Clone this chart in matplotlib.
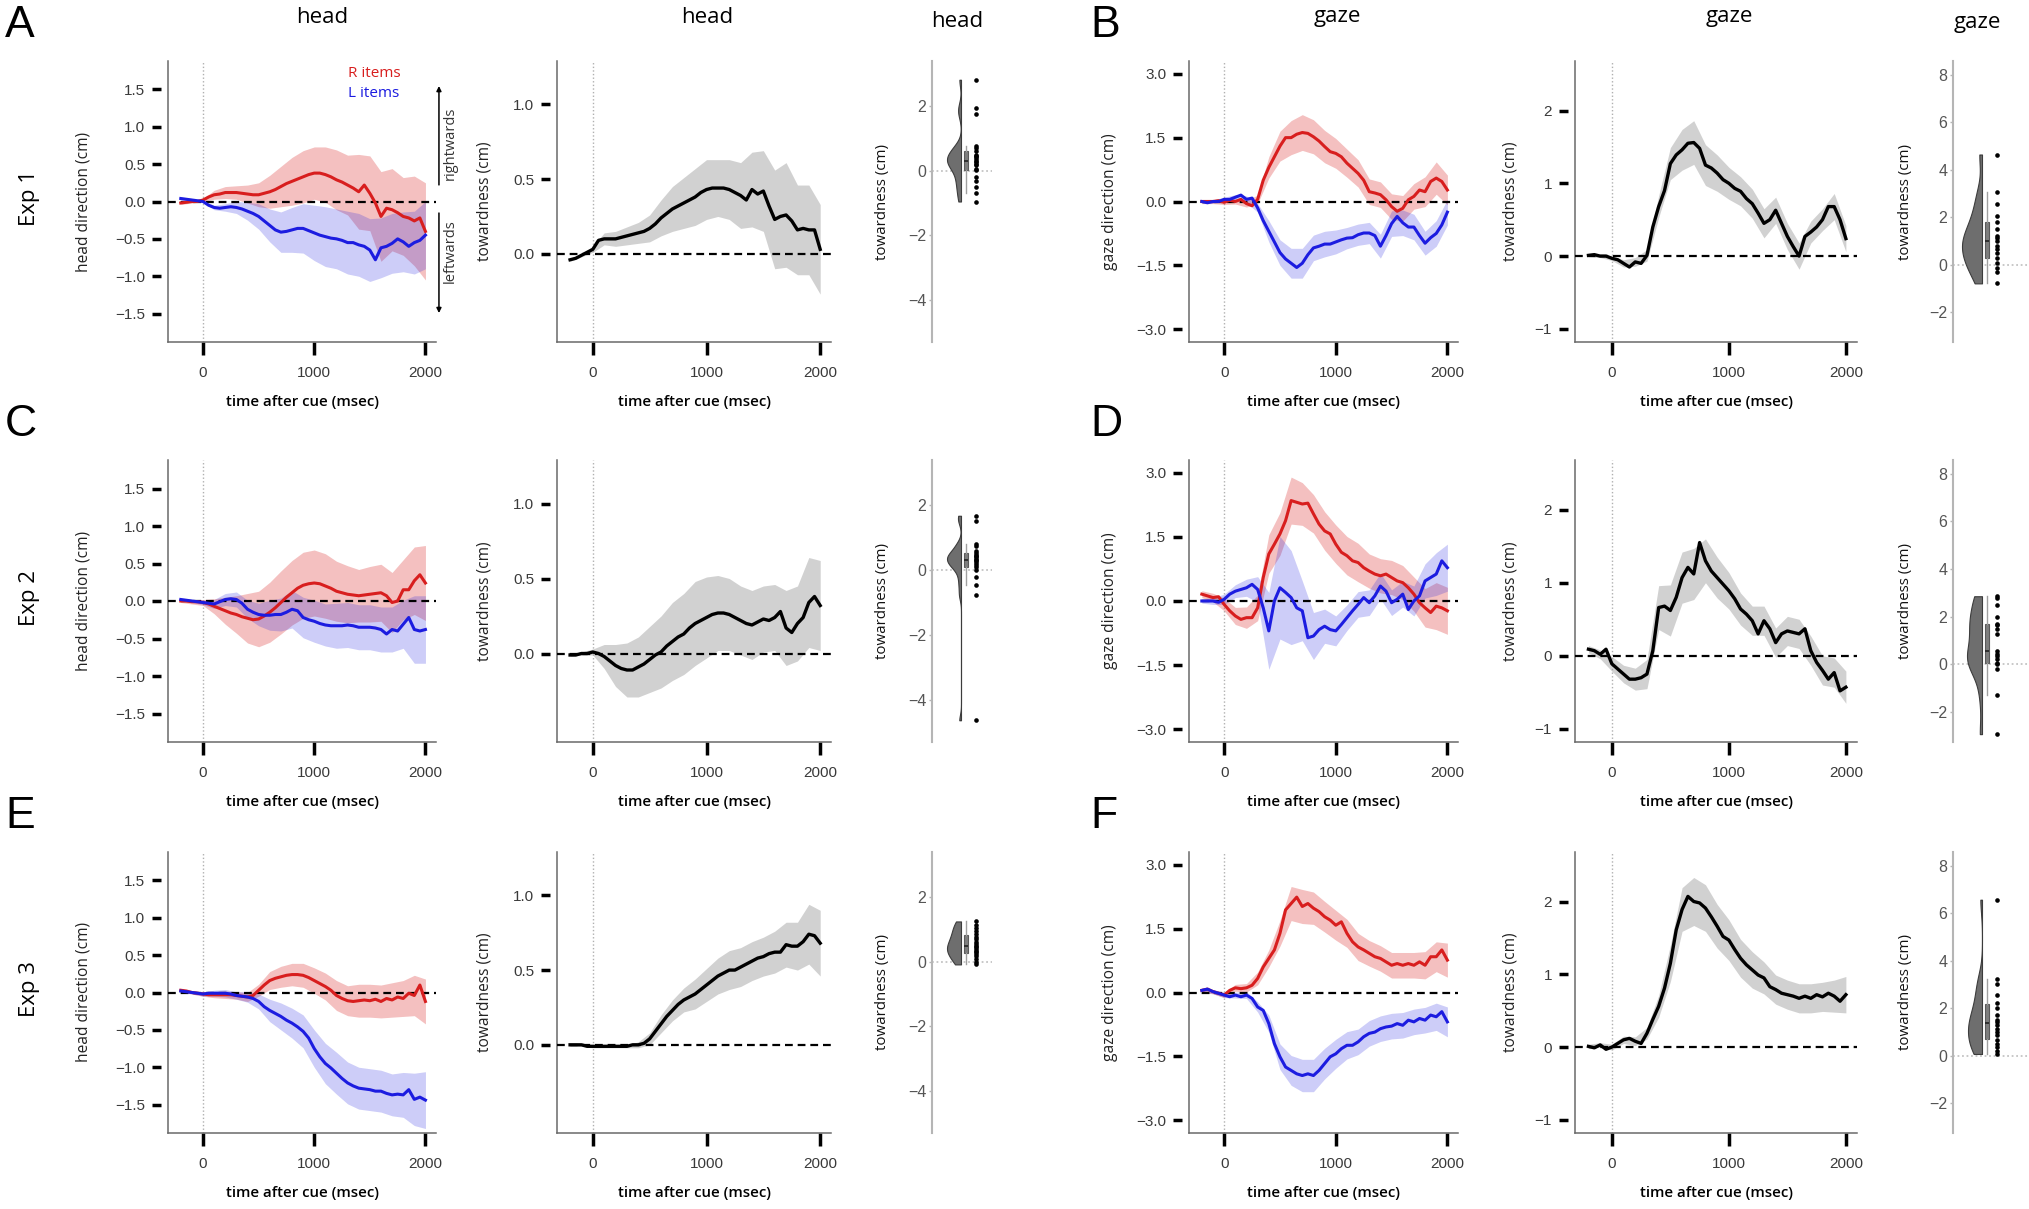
#!/usr/bin/env python3
"""Head / gaze direction and towardness after the cue, Exp 1-3 (panels A-F)."""
import numpy as np
import matplotlib
matplotlib.use('Agg')
import matplotlib.pyplot as plt
from matplotlib.ticker import FuncFormatter

plt.rcParams['font.family'] = ['Liberation Sans', 'DejaVu Sans']

# sample times (ms): means every 50 ms, CI half-widths every 100 ms
t_mean = np.arange(-200, 2001, 50)
t_ci = np.arange(-200, 2001, 100)

# ---- Exp 1 -----------------------------------------------------------------
exp1_head_R = [-0.02, -0.01, 0.0, 0.0, 0.02, 0.06, 0.09, 0.1, 0.12, 0.12, 0.12, 0.11, 0.1, 0.09, 0.09,
               0.11, 0.13, 0.16, 0.2, 0.24, 0.27, 0.3, 0.33, 0.36, 0.38, 0.38, 0.36, 0.33, 0.29, 0.26,
               0.22, 0.18, 0.13, 0.22, 0.11, -0.02, -0.2, -0.09, -0.11, -0.15, -0.2, -0.22, -0.26, -0.22, -0.4]
exp1_head_L = [0.04, 0.03, 0.02, 0.01, 0.0, -0.05, -0.08, -0.09, -0.08, -0.07, -0.08, -0.1, -0.13, -0.16, -0.2,
               -0.26, -0.32, -0.38, -0.41, -0.4, -0.38, -0.36, -0.36, -0.39, -0.42, -0.45, -0.47, -0.49, -0.5, -0.52,
               -0.55, -0.55, -0.58, -0.6, -0.65, -0.78, -0.62, -0.6, -0.56, -0.5, -0.54, -0.6, -0.55, -0.52, -0.45]
exp1_head_R_ci = [0.02, 0.02, 0.02, 0.06, 0.08, 0.09, 0.12, 0.16, 0.22, 0.27, 0.32, 0.35, 0.35, 0.37, 0.4, 0.4,
                  0.5, 0.5, 0.6, 0.55, 0.52, 0.6, 0.65]
exp1_head_L_ci = [0.02, 0.02, 0.01, 0.03, 0.05, 0.08, 0.12, 0.17, 0.22, 0.27, 0.3, 0.33, 0.37, 0.4, 0.4, 0.42,
                  0.42, 0.42, 0.4, 0.4, 0.4, 0.42, 0.45]
exp1_head_tow = [-0.04, -0.03, -0.01, 0.01, 0.03, 0.09, 0.1, 0.1, 0.1, 0.11, 0.12, 0.13, 0.14, 0.15, 0.17,
                 0.2, 0.24, 0.27, 0.3, 0.32, 0.34, 0.36, 0.38, 0.41, 0.43, 0.44, 0.44, 0.44, 0.43, 0.41,
                 0.39, 0.36, 0.43, 0.4, 0.42, 0.32, 0.23, 0.25, 0.26, 0.22, 0.16, 0.17, 0.16, 0.16, 0.03]
exp1_head_tow_ci = [0.01, 0.01, 0.02, 0.04, 0.05, 0.06, 0.07, 0.09, 0.12, 0.15, 0.17, 0.19, 0.2, 0.19, 0.2, 0.22,
                    0.25, 0.27, 0.33, 0.35, 0.3, 0.3, 0.3]
exp1_gaze_R = [0.0, 0.0, 0.0, 0.02, -0.02, 0.03, 0.0, 0.05, -0.05, -0.1, 0.05, 0.5, 0.8, 1.05, 1.3,
               1.5, 1.5, 1.58, 1.62, 1.6, 1.52, 1.42, 1.29, 1.17, 1.13, 1.05, 0.9, 0.78, 0.66, 0.5,
               0.23, 0.2, 0.16, 0.04, -0.12, -0.23, -0.16, 0.04, 0.12, 0.27, 0.23, 0.47, 0.55, 0.47, 0.27]
exp1_gaze_L = [0.0, -0.03, 0.0, 0.0, 0.05, 0.05, 0.1, 0.15, 0.05, 0.08, -0.15, -0.45, -0.7, -0.95, -1.2,
               -1.35, -1.45, -1.55, -1.45, -1.25, -1.09, -1.05, -1.0, -1.0, -0.95, -0.9, -0.86, -0.85, -0.78, -0.74,
               -0.74, -0.8, -1.05, -0.8, -0.52, -0.35, -0.5, -0.6, -0.6, -0.8, -0.98, -0.85, -0.75, -0.55, -0.25]
exp1_gaze_R_ci = [0.05, 0.05, 0.05, 0.06, 0.08, 0.1, 0.25, 0.35, 0.4, 0.42, 0.4, 0.38, 0.35, 0.33, 0.32, 0.3,
                  0.3, 0.3, 0.3, 0.3, 0.35, 0.38, 0.35]
exp1_gaze_L_ci = [0.04, 0.04, 0.05, 0.06, 0.08, 0.1, 0.25, 0.3, 0.35, 0.35, 0.3, 0.3, 0.28, 0.25, 0.25, 0.25,
                  0.28, 0.3, 0.3, 0.3, 0.28, 0.3, 0.3]
exp1_gaze_tow = [0.01, 0.02, 0.0, 0.0, -0.03, -0.05, -0.1, -0.15, -0.08, -0.1, 0.01, 0.4, 0.68, 0.9, 1.27,
                 1.39, 1.46, 1.55, 1.56, 1.48, 1.25, 1.21, 1.14, 1.05, 1.0, 0.93, 0.89, 0.79, 0.72, 0.59,
                 0.45, 0.5, 0.63, 0.45, 0.27, 0.13, 0.0, 0.27, 0.33, 0.4, 0.5, 0.68, 0.68, 0.5, 0.24]
exp1_gaze_tow_ci = [0.02, 0.02, 0.03, 0.05, 0.06, 0.08, 0.15, 0.22, 0.28, 0.3, 0.28, 0.25, 0.22, 0.2, 0.2, 0.2,
                    0.18, 0.18, 0.18, 0.15, 0.15, 0.18, 0.18]
exp1_head_subj = [2.82, 1.96, 1.77, 0.76, 0.71, 0.62, 0.5, 0.45, 0.42, 0.38, 0.3, 0.28, 0.22, 0.18, 0.05,
                  0.02, -0.18, -0.33, -0.5, -0.7, -0.95]
exp1_gaze_subj = [4.64, 3.07, 2.57, 2.07, 1.79, 1.5, 1.21, 1.14, 1.0, 0.79, 0.64, 0.5, 0.29, 0.07, -0.14,
                  -0.29, -0.79]

# ---- Exp 2 -----------------------------------------------------------------
exp2_head_R = [0.0, 0.0, -0.01, -0.01, -0.02, -0.04, -0.07, -0.1, -0.13, -0.16, -0.18, -0.21, -0.23, -0.25, -0.24,
               -0.2, -0.15, -0.09, -0.02, 0.05, 0.11, 0.17, 0.21, 0.23, 0.24, 0.23, 0.2, 0.17, 0.13, 0.11,
               0.09, 0.08, 0.07, 0.08, 0.09, 0.1, 0.11, 0.07, -0.02, 0.0, 0.15, 0.15, 0.27, 0.35, 0.24]
exp2_head_L = [0.02, 0.01, 0.0, -0.01, -0.02, -0.03, -0.04, -0.01, 0.02, 0.03, 0.02, -0.03, -0.11, -0.15, -0.18,
               -0.19, -0.19, -0.18, -0.18, -0.15, -0.11, -0.13, -0.22, -0.25, -0.27, -0.3, -0.32, -0.33, -0.33, -0.33,
               -0.32, -0.33, -0.35, -0.35, -0.35, -0.36, -0.38, -0.44, -0.38, -0.4, -0.31, -0.22, -0.38, -0.4, -0.38]
exp2_head_R_ci = [0.02, 0.03, 0.04, 0.1, 0.18, 0.25, 0.33, 0.37, 0.4, 0.42, 0.43, 0.44, 0.44, 0.43, 0.4, 0.38,
                  0.35, 0.37, 0.38, 0.4, 0.4, 0.45, 0.5]
exp2_head_L_ci = [0.02, 0.02, 0.03, 0.06, 0.08, 0.1, 0.12, 0.15, 0.2, 0.22, 0.25, 0.27, 0.28, 0.28, 0.3, 0.3,
                  0.3, 0.3, 0.3, 0.3, 0.32, 0.45, 0.45]
exp2_head_tow = [-0.01, -0.01, 0.0, 0.0, 0.01, 0.0, -0.02, -0.05, -0.08, -0.1, -0.11, -0.11, -0.09, -0.07, -0.04,
                 -0.01, 0.01, 0.05, 0.08, 0.11, 0.13, 0.17, 0.2, 0.22, 0.24, 0.26, 0.27, 0.27, 0.26, 0.24,
                 0.22, 0.2, 0.19, 0.21, 0.23, 0.22, 0.24, 0.28, 0.17, 0.14, 0.2, 0.24, 0.34, 0.38, 0.32]
exp2_head_tow_ci = [0.01, 0.01, 0.02, 0.08, 0.14, 0.18, 0.2, 0.22, 0.24, 0.26, 0.27, 0.28, 0.27, 0.25, 0.24, 0.23,
                    0.23, 0.22, 0.22, 0.25, 0.25, 0.3, 0.3]
exp2_gaze_R = [0.16, 0.12, 0.08, 0.1, -0.08, -0.23, -0.35, -0.43, -0.39, -0.39, -0.16, 0.55, 1.1, 1.33, 1.57,
               1.88, 2.35, 2.31, 2.27, 2.29, 2.04, 1.8, 1.64, 1.57, 1.33, 1.14, 1.06, 0.94, 0.9, 0.78,
               0.7, 0.63, 0.59, 0.63, 0.55, 0.47, 0.43, 0.31, 0.16, -0.04, -0.16, -0.27, -0.12, -0.16, -0.23]
exp2_gaze_L = [0.0, 0.0, 0.0, -0.03, 0.04, 0.16, 0.23, 0.27, 0.31, 0.39, 0.27, -0.16, -0.7, 0.0, 0.31,
               0.2, 0.08, -0.16, -0.23, -0.86, -0.82, -0.67, -0.59, -0.67, -0.7, -0.55, -0.39, -0.23, -0.08, 0.08,
               -0.04, 0.12, 0.35, 0.23, -0.04, 0.04, 0.16, -0.2, 0.0, 0.12, 0.47, 0.55, 0.63, 0.94, 0.78]
exp2_gaze_R_ci = [0.08, 0.1, 0.15, 0.2, 0.25, 0.3, 0.45, 0.5, 0.55, 0.5, 0.45, 0.45, 0.45, 0.45, 0.45, 0.4,
                  0.4, 0.4, 0.4, 0.4, 0.45, 0.55, 0.55]
exp2_gaze_L_ci = [0.05, 0.08, 0.12, 0.15, 0.2, 0.3, 0.9, 1.2, 1.1, 0.7, 0.55, 0.4, 0.35, 0.3, 0.3, 0.3,
                  0.3, 0.3, 0.3, 0.35, 0.4, 0.5, 0.55]
exp2_gaze_tow = [0.09, 0.07, 0.02, 0.09, -0.11, -0.18, -0.25, -0.32, -0.32, -0.3, -0.25, 0.07, 0.66, 0.68, 0.62,
                 0.8, 1.07, 1.21, 1.12, 1.55, 1.3, 1.16, 1.07, 0.98, 0.89, 0.78, 0.64, 0.57, 0.48, 0.3,
                 0.48, 0.37, 0.18, 0.3, 0.34, 0.32, 0.3, 0.37, 0.07, -0.09, -0.2, -0.32, -0.23, -0.48, -0.43]
exp2_gaze_tow_ci = [0.05, 0.06, 0.1, 0.12, 0.15, 0.2, 0.3, 0.35, 0.35, 0.35, 0.3, 0.28, 0.25, 0.22, 0.2, 0.2,
                    0.2, 0.2, 0.2, 0.2, 0.2, 0.2, 0.22]
exp2_head_subj = [1.68, 1.52, 0.81, 0.74, 0.58, 0.53, 0.48, 0.43, 0.4, 0.35, 0.3, 0.27, 0.22, 0.15, 0.11,
                  0.01, -0.2, -0.46, -0.77, -4.63]
exp2_gaze_subj = [2.86, 2.79, 2.5, 2.0, 1.71, 1.64, 1.5, 1.29, 0.57, 0.43, 0.35, 0.21, 0.07, 0.0, -0.21,
                  -1.29, -2.93]

# ---- Exp 3 -----------------------------------------------------------------
exp3_head_R = [0.03, 0.02, 0.0, -0.01, -0.02, -0.03, -0.03, -0.03, -0.03, -0.03, -0.04, -0.05, -0.06, -0.04, 0.03,
               0.1, 0.16, 0.19, 0.21, 0.23, 0.24, 0.24, 0.23, 0.2, 0.16, 0.12, 0.08, 0.03, -0.04, -0.08,
               -0.11, -0.12, -0.11, -0.1, -0.11, -0.09, -0.12, -0.08, -0.1, -0.06, -0.08, -0.01, -0.04, 0.1, -0.12]
exp3_head_L = [0.02, 0.01, 0.0, -0.01, -0.02, -0.01, -0.01, -0.01, -0.01, -0.02, -0.04, -0.05, -0.06, -0.08, -0.12,
               -0.19, -0.24, -0.28, -0.32, -0.37, -0.41, -0.46, -0.52, -0.61, -0.75, -0.86, -0.95, -1.01, -1.08, -1.15,
               -1.21, -1.25, -1.28, -1.29, -1.3, -1.32, -1.32, -1.35, -1.37, -1.36, -1.37, -1.3, -1.43, -1.4, -1.44]
exp3_head_R_ci = [0.02, 0.02, 0.03, 0.04, 0.05, 0.05, 0.06, 0.08, 0.12, 0.14, 0.15, 0.16, 0.17, 0.18, 0.2, 0.2,
                  0.22, 0.22, 0.22, 0.23, 0.24, 0.27, 0.3]
exp3_head_L_ci = [0.02, 0.02, 0.03, 0.04, 0.05, 0.05, 0.07, 0.1, 0.15, 0.18, 0.2, 0.22, 0.25, 0.27, 0.28, 0.28,
                  0.28, 0.28, 0.28, 0.28, 0.3, 0.35, 0.38]
exp3_head_tow = [0.0, 0.0, 0.0, -0.01, -0.01, -0.01, -0.01, -0.01, -0.01, -0.01, -0.01, 0.0, 0.0, 0.01, 0.04,
                 0.09, 0.14, 0.19, 0.23, 0.27, 0.3, 0.32, 0.34, 0.37, 0.4, 0.43, 0.46, 0.48, 0.5, 0.5,
                 0.52, 0.54, 0.56, 0.58, 0.59, 0.61, 0.62, 0.62, 0.67, 0.66, 0.66, 0.69, 0.74, 0.73, 0.68]
exp3_head_tow_ci = [0.01, 0.01, 0.01, 0.01, 0.01, 0.01, 0.02, 0.04, 0.06, 0.07, 0.08, 0.1, 0.11, 0.12, 0.13, 0.13,
                    0.13, 0.13, 0.14, 0.15, 0.16, 0.2, 0.22]
exp3_gaze_R = [0.05, 0.08, 0.02, -0.02, -0.06, 0.05, 0.11, 0.09, 0.11, 0.17, 0.33, 0.6, 0.8, 1.0, 1.39,
               1.94, 2.09, 2.24, 2.02, 2.09, 1.98, 1.9, 1.78, 1.7, 1.58, 1.66, 1.39, 1.19, 1.07, 1.0,
               0.92, 0.84, 0.8, 0.72, 0.64, 0.68, 0.64, 0.68, 0.64, 0.72, 0.64, 0.84, 0.84, 1.0, 0.76]
exp3_gaze_L = [0.05, 0.08, 0.02, -0.02, -0.06, -0.1, -0.06, -0.1, -0.06, -0.14, -0.34, -0.42, -0.73, -1.2, -1.51,
               -1.75, -1.83, -1.91, -1.95, -1.91, -1.95, -1.83, -1.67, -1.51, -1.44, -1.32, -1.24, -1.24, -1.16, -1.04,
               -0.96, -0.93, -0.85, -0.81, -0.79, -0.73, -0.77, -0.65, -0.69, -0.61, -0.65, -0.53, -0.57, -0.45, -0.69]
exp3_gaze_R_ci = [0.05, 0.05, 0.06, 0.08, 0.1, 0.15, 0.2, 0.3, 0.4, 0.4, 0.38, 0.36, 0.35, 0.33, 0.32, 0.3,
                  0.3, 0.3, 0.3, 0.3, 0.32, 0.35, 0.4]
exp3_gaze_L_ci = [0.05, 0.05, 0.06, 0.07, 0.08, 0.12, 0.2, 0.3, 0.35, 0.38, 0.38, 0.36, 0.34, 0.32, 0.3, 0.3,
                  0.3, 0.3, 0.3, 0.3, 0.3, 0.32, 0.35]
exp3_gaze_tow = [0.01, -0.01, 0.03, -0.03, 0.0, 0.05, 0.1, 0.12, 0.08, 0.05, 0.19, 0.38, 0.56, 0.81, 1.15,
                 1.61, 1.89, 2.07, 2.0, 1.98, 1.91, 1.79, 1.66, 1.52, 1.47, 1.34, 1.22, 1.13, 1.06, 0.99,
                 0.95, 0.83, 0.79, 0.74, 0.72, 0.7, 0.67, 0.7, 0.67, 0.72, 0.69, 0.74, 0.7, 0.63, 0.72]
exp3_gaze_tow_ci = [0.03, 0.03, 0.04, 0.05, 0.06, 0.08, 0.15, 0.25, 0.3, 0.33, 0.32, 0.3, 0.28, 0.26, 0.25, 0.22,
                    0.2, 0.2, 0.2, 0.2, 0.2, 0.22, 0.25]
exp3_head_subj = [1.25, 1.15, 1.05, 0.95, 0.85, 0.78, 0.7, 0.62, 0.55, 0.5, 0.45, 0.4, 0.35, 0.3, 0.25,
                  0.18, 0.1, 0.0, -0.08]
exp3_gaze_subj = [6.57, 3.21, 3.0, 2.57, 2.21, 2.0, 1.71, 1.5, 1.43, 1.29, 1.14, 1.0, 0.86, 0.64, 0.5,
                  0.36, 0.21, 0.07]

W, H = 2029, 1209
RED, BLUE = '#d81e1e', '#1c1ce0'
UI = 'Open Sans'
SPINE = '#6a6a6a'
# raincloud geometry, in pixels from the axis line
EDGE, BOX, DOTS = 29, 34, 43.5

fig = plt.figure(figsize=(W / 100, H / 100), dpi=100)


def add_ax(x0, x1, y0, y1):
    return fig.add_axes([x0 / W, 1 - y1 / H, (x1 - x0) / W, (y1 - y0) / H])


def minus(fmt):
    return FuncFormatter(lambda v, p: format(v, fmt).replace('-', '\u2212'))


def time_axes(ax, ylim, yticks, yfmt, ylabel, label_x):
    ax.set_xlim(-315, 2095)
    ax.set_ylim(*ylim)
    ax.set_xticks([0, 1000, 2000])
    ax.set_yticks(yticks)
    ax.yaxis.set_major_formatter(minus(yfmt))
    for s in ('top', 'right'):
        ax.spines[s].set_visible(False)
    # R-style: ticks detached from the axis line
    ax.spines['left'].set_position(('outward', 5))
    ax.spines['left'].set_visible(False)
    ax.plot([0, 0], [0, 1], transform=ax.transAxes, color=SPINE, lw=1.1, clip_on=False)
    ax.spines['bottom'].set_color(SPINE)
    ax.spines['bottom'].set_linewidth(1.1)
    ax.tick_params(axis='y', length=6.5, width=2.5, color='k', pad=5, labelsize=11, labelcolor='#3a3a3a')
    ax.tick_params(axis='x', length=9, width=2.5, color='k', pad=8, labelsize=11, labelcolor='#3a3a3a')
    ax.axvline(0, color='#b0b0b0', lw=1, ls=(0, (1, 1.6)), zorder=1)
    ax.axhline(0, color='k', lw=1.6, ls=(0, (3.5, 2.2)), zorder=2)
    ax.set_ylabel(ylabel, family=UI, fontsize=11.2, color='#222', va='center')
    ax.yaxis.set_label_coords(label_x, 0.5)
    ax.set_xlabel('time after cue (msec)', family=UI, fontsize=10.8, fontweight='semibold', va='center')
    ax.xaxis.set_label_coords(0.5, -0.2135)


def band_line(ax, m, hw, color, alpha, lw):
    m = np.asarray(m)
    ax.fill_between(t_ci, m[::2] - np.asarray(hw), m[::2] + np.asarray(hw),
                    color=color, alpha=alpha, lw=0, zorder=1)
    ax.plot(t_mean, m, color=color, lw=lw, zorder=3, solid_joinstyle='round')


def rain_axes(ax, pts, ylim, yticks, width, xmax, label_x):
    pts = np.sort(np.asarray(pts, float))
    n = len(pts)
    q1, q3 = np.percentile(pts, [25, 75])
    bw = 0.9 * min(pts.std(ddof=1), (q3 - q1) / 1.34) * n ** -0.2
    grid = np.linspace(pts[0], pts[-1], 300)
    dens = np.exp(-0.5 * ((grid[:, None] - pts[None, :]) / bw) ** 2).sum(axis=1)
    dens *= width / dens.max()
    ax.axhline(0, color='#c4c4c4', lw=1.3, ls=(0, (1, 1.5)), zorder=1)
    ax.fill_betweenx(grid, EDGE - dens, EDGE, facecolor='#6e6e6e', edgecolor='#3c3c3c', lw=0.8, zorder=2)
    ax.boxplot(pts, positions=[BOX], widths=4.5, showfliers=False, showcaps=False, patch_artist=True,
               boxprops=dict(facecolor='#7e7e7e', edgecolor='#5a5a5a', lw=0.8),
               medianprops=dict(color='#222', lw=1.2),
               whiskerprops=dict(color='#a0a0a0', lw=1.0))
    ax.scatter(np.full(n, DOTS), pts, s=11, color='k', lw=0, zorder=4)
    ax.set_xlim(0, xmax)
    ax.set_ylim(*ylim)
    ax.set_xticks([])
    ax.set_yticks(yticks)
    ax.yaxis.set_major_formatter(minus('.0f'))
    for s in ('top', 'right', 'bottom'):
        ax.spines[s].set_visible(False)
    ax.spines['left'].set_color('#b5b5b5')
    ax.spines['left'].set_linewidth(1.5)
    ax.tick_params(axis='y', length=2, width=1, color='#b5b5b5', pad=2, labelsize=11.5, labelcolor='#555')
    ax.set_ylabel('towardness (cm)', family=UI, fontsize=10.8, color='#111', va='center')
    ax.yaxis.set_label_coords(label_x, 0.5)


rows = [
    ((61, 342), 'Exp 1', ('A', 'B'),
     (exp1_head_R, exp1_head_L, exp1_head_R_ci, exp1_head_L_ci, exp1_head_tow, exp1_head_tow_ci, exp1_head_subj),
     (exp1_gaze_R, exp1_gaze_L, exp1_gaze_R_ci, exp1_gaze_L_ci, exp1_gaze_tow, exp1_gaze_tow_ci, exp1_gaze_subj),
     20),
    ((460, 742), 'Exp 2', ('C', 'D'),
     (exp2_head_R, exp2_head_L, exp2_head_R_ci, exp2_head_L_ci, exp2_head_tow, exp2_head_tow_ci, exp2_head_subj),
     (exp2_gaze_R, exp2_gaze_L, exp2_gaze_R_ci, exp2_gaze_L_ci, exp2_gaze_tow, exp2_gaze_tow_ci, exp2_gaze_subj),
     15),
    ((852, 1133), 'Exp 3', ('E', 'F'),
     (exp3_head_R, exp3_head_L, exp3_head_R_ci, exp3_head_L_ci, exp3_head_tow, exp3_head_tow_ci, exp3_head_subj),
     (exp3_gaze_R, exp3_gaze_L, exp3_gaze_R_ci, exp3_gaze_L_ci, exp3_gaze_tow, exp3_gaze_tow_ci, exp3_gaze_subj),
     14),
]

for i, ((y0, y1), exp, (let_l, let_r), head, gaze, gaze_w) in enumerate(rows):
    hR, hL, hRc, hLc, hT, hTc, hS = head
    gR, gL, gRc, gLc, gT, gTc, gS = gaze

    ax = add_ax(168, 436, y0, y1)
    time_axes(ax, (-1.88, 1.88), [-1.5, -1.0, -0.5, 0, 0.5, 1.0, 1.5], '.1f', 'head direction (cm)', -0.317)
    band_line(ax, hR, hRc, RED, 0.28, 2.2)
    band_line(ax, hL, hLc, BLUE, 0.22, 2.2)
    if i == 0:
        ax.text(0.672, 0.957, 'R items', transform=ax.transAxes, color=RED, family=UI, fontsize=11,
                va='center', ha='left')
        ax.text(0.672, 0.883, 'L items', transform=ax.transAxes, color=BLUE, family=UI, fontsize=11,
                va='center', ha='left')
        arrow = dict(arrowstyle='-|>', color='k', lw=1.1, mutation_scale=7, shrinkA=0, shrinkB=0)
        ax.annotate('', xy=(1.011, 0.911), xytext=(1.011, 0.559), xycoords='axes fraction', arrowprops=arrow)
        ax.annotate('', xy=(1.011, 0.103), xytext=(1.011, 0.459), xycoords='axes fraction', arrowprops=arrow)
        ax.text(1.052, 0.708, 'rightwards', transform=ax.transAxes, rotation=90, family=UI, fontsize=10.5,
                color='#333', ha='center', va='center')
        ax.text(1.052, 0.324, 'leftwards', transform=ax.transAxes, rotation=90, family=UI, fontsize=10.5,
                color='#333', ha='center', va='center')

    ax = add_ax(557, 831, y0, y1)
    time_axes(ax, (-0.59, 1.29), [0, 0.5, 1.0], '.1f', 'towardness (cm)', -0.263)
    band_line(ax, hT, hTc, '#9a9a9a', 0.45, 2.4)
    ax.lines[-1].set_color('k')

    ax = add_ax(932, 992, y0, y1)
    rain_axes(ax, hS, (-5.3, 3.4), [-4, -2, 0, 2], 14, 60, -0.82)

    ax = add_ax(1189, 1458, y0, y1)
    time_axes(ax, (-3.3, 3.3), [-3, -1.5, 0, 1.5, 3], '.1f', 'gaze direction (cm)', -0.294)
    band_line(ax, gR, gRc, RED, 0.28, 2.2)
    band_line(ax, gL, gLc, BLUE, 0.22, 2.2)

    ax = add_ax(1575, 1857, y0, y1)
    time_axes(ax, (-1.18, 2.68), [-1, 0, 1, 2], '.0f', 'towardness (cm)', -0.227)
    band_line(ax, gT, gTc, '#9a9a9a', 0.45, 2.4)
    ax.lines[-1].set_color('k')

    ax = add_ax(1953, 2029, y0, y1)
    rain_axes(ax, gS, (-3.26, 8.58), [-2, 0, 2, 4, 6, 8], gaze_w, 76, -0.63)

    # row labels and panel letters
    yc = (y0 + y1) / 2 - 3
    fig.text(30 / W, 1 - yc / H, exp, rotation=90, family=UI, fontsize=16, ha='center', va='center')
    fig.text(5 / W, 1 - (y0 - 24) / H, let_l, fontsize=32, ha='left', va='baseline')
    fig.text(1090 / W, 1 - (y0 - 24) / H, let_r, fontsize=32, ha='left', va='baseline')

# column titles
for x, txt, base in [(322, 'head', 23), (707, 'head', 23), (957, 'head', 27),
                     (1337, 'gaze', 22), (1729, 'gaze', 22), (1977, 'gaze', 28)]:
    fig.text(x / W, 1 - base / H, txt, family=UI, fontsize=16, ha='center', va='baseline')

fig.savefig('out.png', dpi=100)
